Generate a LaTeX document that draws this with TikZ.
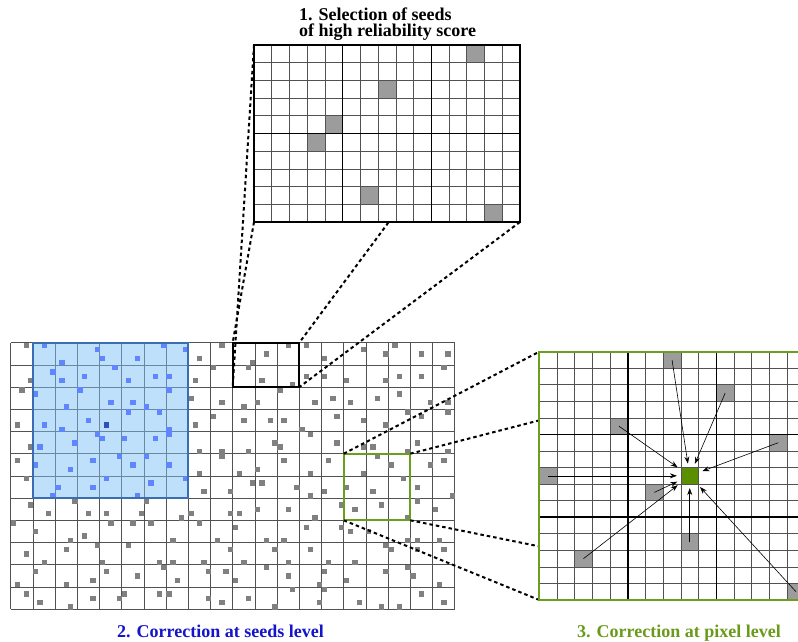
\documentclass[tikz,border=0pt]{standalone}
\usepackage{fontspec}
\setmainfont{Liberation Serif}
\usetikzlibrary{arrows.meta, positioning, calc}
\definecolor{seedGray}{HTML}{808080}
\definecolor{cellGray}{HTML}{9C9C9C}
\definecolor{seedBlue}{HTML}{5F86FF}
\definecolor{seedDark}{HTML}{2D4FC0}
\definecolor{zoneFill}{HTML}{7DC1F5}
\definecolor{zoneEdge}{HTML}{3B6DB3}
\definecolor{pixGreen}{HTML}{6A9E1F}
\definecolor{pixCore}{HTML}{5A9000}
\definecolor{labelBlue}{HTML}{1414C8}
\definecolor{labelGreen}{HTML}{6A9A1A}
\tikzset{
  gridframe/.style={inner sep=0pt, outer sep=0pt, anchor=north west},
  cellbox/.style={inner sep=0pt, outer sep=0pt, anchor=north west, minimum width=17.7pt, minimum height=16.55pt},
  thinline/.style={draw=black!68, line width=0.7pt},
  majorline/.style={draw=black, line width=1.6pt},
  zoomline/.style={black, line width=2pt, dash pattern=on 3.5pt off 3pt},
  pullarr/.style={-{Stealth[length=7pt, width=5pt]}, line width=0.6pt, shorten >=4pt},
  steplabel/.style={font=\fontsize{18}{16.5}\selectfont\bfseries},
}

\begin{document}
\begin{tikzpicture}[x=1pt, y=-1pt]
  \useasboundingbox (0,0) rectangle (798,642);
  % frames
  \node[gridframe, minimum width=444pt, minimum height=266.4pt] (image) at (10.7,342.7) {};
  \node[gridframe, minimum width=155.4pt, minimum height=155.4pt] (seedzone) at (32.9,342.7) {};
  \node[gridframe, minimum width=66.6pt, minimum height=44.4pt] (seedwin) at (232.7,342.7) {};
  \node[gridframe, minimum width=66.6pt, minimum height=66.6pt] (pixwin) at (343.7,453.7) {};
  \node[gridframe, minimum width=266pt, minimum height=177pt] (topgrid) at (254,45) {};
  \node[gridframe, minimum width=265.5pt, minimum height=248.3pt] (pixgrid) at (539.3,351.7) {};

  % image grid
  \foreach \i in {0,...,20}
    \draw[thinline] ({10.7+\i*22.2},342.7) -- ++(0,266.4);
  \foreach \j in {0,...,12}
    \draw[thinline] (10.7,{342.7+\j*22.2}) -- ++(444,0);
  \fill[zoneFill, opacity=0.5] (seedzone.north west) rectangle (seedzone.south east);

  % seeds
  \pgfmathsetseed{2718}
  \foreach \c in {0,...,19}{
    \foreach \r in {0,...,11}{
      \pgfmathrandominteger{\sx}{0}{4}
      \pgfmathrandominteger{\sy}{0}{4}
      \pgfmathtruncatemacro{\fixed}{(\c>9)*(\c<13)*(\r<2)+(\c>14)*(\c<18)*(\r>4)*(\r<8)+(\c==4)*(\r==3)}
      \pgfmathtruncatemacro{\inzone}{(\c>0)*(\c<8)*(\r<7)}
      \ifnum\fixed=0
        \ifnum\inzone=1 \def\scol{seedBlue}\else\def\scol{seedGray}\fi
        \fill[fill=\scol] ({10.7+\c*22.2+\sx*4.3},{342.7+\r*22.2+\sy*4.3}) rectangle ++(5.4,5.4);
      \fi
    }
  }
  \foreach \c/\r/\sx/\sy in {10/0/4/4, 11/0/2/2, 12/0/2/0, 10/1/3/0, 11/1/1/3, 12/1/3/4,
      15/5/4/4, 16/5/2/0, 17/5/0/2, 15/6/0/2, 16/6/1/3, 17/6/3/0, 15/7/2/2, 16/7/3/1, 17/7/4/4}
    \fill[seedGray] ({10.7+\c*22.2+\sx*4.3},{342.7+\r*22.2+\sy*4.3}) rectangle ++(5.4,5.4);
  \fill[seedDark] ({10.7+4*22.2+1*4.3},{342.7+3*22.2+3*4.3}) rectangle ++(5.4,5.4);

  \draw[zoneEdge, line width=2pt] (seedzone.north west) rectangle (seedzone.south east);
  \draw[black, line width=2pt] (seedwin.north west) rectangle (seedwin.south east);
  \draw[pixGreen, line width=2pt] (pixwin.north west) rectangle (pixwin.south east);

  % zoom lines
  \draw[zoomline] (topgrid.north west) -- (seedwin.south west);
  \draw[zoomline] (topgrid.south west) -- (seedwin.north west);
  \draw[zoomline] (topgrid.north east) -- (seedwin.north east);
  \draw[zoomline] (topgrid.south east) -- (seedwin.south east);
  \draw[zoomline] (pixwin.north west) -- (pixgrid.north west);
  \draw[zoomline] (pixwin.north east) -- (pixgrid.north east);
  \draw[zoomline] (pixwin.south west) -- (pixgrid.south west);
  \draw[zoomline] (pixwin.south east) -- (pixgrid.south east);

  % 1. seed window
  \fill[white] (topgrid.north west) rectangle (topgrid.south east);
  \foreach \c/\r in {12/0, 7/2, 4/4, 3/5, 6/8, 13/9}
    \fill[cellGray] ({254+\c*17.733},{45+\r*17.7}) rectangle ++(17.733,17.7);
  \foreach \i in {1,...,14}
    \draw[thinline] ({254+\i*17.733},45) -- ++(0,177);
  \foreach \j in {1,...,9}
    \draw[thinline] (254,{45+\j*17.7}) -- ++(266,0);
  \foreach \i in {5,10}
    \draw[majorline] ({254+\i*17.733},45) -- ++(0,177);
  \draw[majorline] (254,133.5) -- ++(266,0);
  \draw[majorline] (topgrid.north west) rectangle (topgrid.south east);

  % 3. pixel window
  \fill[white] (pixgrid.north west) rectangle (pixgrid.south east);
  \foreach \c/\r [count=\k] in {7/0, 10/2, 4/4, 13/5, 0/7, 6/8, 8/11, 2/12, 14/14}
    \node[cellbox, fill=cellGray] (src\k) at ({539.3+\c*17.7},{351.7+\r*16.55}) {};
  \node[cellbox, fill=pixCore] (core) at ({539.3+8*17.7},{351.7+7*16.55}) {};
  \foreach \i in {1,...,14}
    \draw[thinline] ({539.3+\i*17.7},351.7) -- ++(0,248.3);
  \foreach \j in {1,...,14}
    \draw[thinline] (539.3,{351.7+\j*16.55}) -- ++(265.5,0);
  \foreach \i in {5,10}{
    \draw[majorline] ({539.3+\i*17.7},351.7) -- ++(0,248.3);
    \draw[majorline] (539.3,{351.7+\i*16.55}) -- ++(265.5,0);
  }
  \draw[pixGreen, line width=2pt] (pixgrid.north west) rectangle (pixgrid.south east);
  \foreach \k in {1,...,9}
    \draw[pullarr] (src\k.center) -- (core);

  % labels
  \node[steplabel, anchor=north west, align=left, inner sep=0pt] (title) at (299,7.5)
    {1. Selection of seeds\\of high reliability score};
  \node[steplabel, text=labelBlue, anchor=base] (lblseeds) at (220.5,637) {2. Correction at seeds level};
  \node[steplabel, text=labelGreen, anchor=base] (lblpixel) at (679,637) {3. Correction at pixel level};
\end{tikzpicture}
\end{document}
